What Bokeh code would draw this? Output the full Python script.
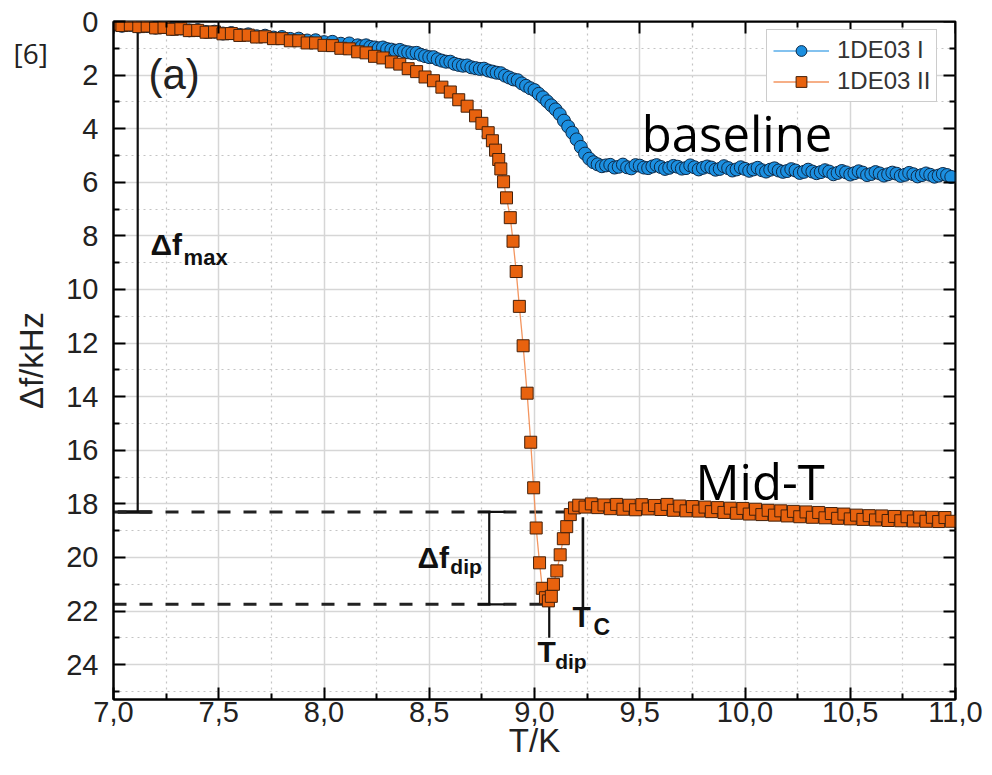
from bokeh.plotting import figure
from bokeh.models import (Range1d, LinearAxis, FixedTicker, Label, Legend, LegendItem,
                          ColumnDataSource)
from bokeh.embed import file_html
from bokeh.resources import INLINE

# ---------------- data ----------------
BLUE_T = [7.00, 7.04, 7.08, 7.12, 7.16, 7.20, 7.24, 7.28, 7.32, 7.36,
          7.40, 7.44, 7.48, 7.52, 7.56, 7.60, 7.64, 7.68, 7.72, 7.76,
          7.80, 7.84, 7.88, 7.92, 7.96, 8.00, 8.04, 8.08, 8.12,
          8.16, 8.18, 8.20, 8.22, 8.24, 8.26, 8.28, 8.30, 8.32, 8.34,
          8.36, 8.38, 8.40, 8.42, 8.44, 8.46, 8.48, 8.50, 8.52, 8.54,
          8.56, 8.58, 8.60, 8.62, 8.64, 8.66, 8.68, 8.70, 8.72, 8.74,
          8.76, 8.78, 8.80, 8.82, 8.84, 8.86, 8.88, 8.90, 8.92, 8.94,
          8.96, 8.98, 9.00,
          9.02, 9.04, 9.06, 9.08, 9.10, 9.12, 9.14, 9.16, 9.18, 9.20,
          9.22, 9.24, 9.26, 9.28, 9.30,
          9.32, 9.34, 9.36, 9.38, 9.40, 9.42, 9.44, 9.46, 9.48, 9.50,
          9.52, 9.54, 9.56, 9.58, 9.60, 9.62, 9.64, 9.66, 9.68, 9.70,
          9.72, 9.74, 9.76, 9.78, 9.80, 9.82, 9.84, 9.86, 9.88, 9.90,
          9.92, 9.94, 9.96, 9.98, 10.00, 10.02, 10.04, 10.06, 10.08, 10.10,
          10.12, 10.14, 10.16, 10.18, 10.20, 10.22, 10.24, 10.26, 10.28, 10.30,
          10.32, 10.34, 10.36, 10.38, 10.40, 10.42, 10.44, 10.46, 10.48, 10.50,
          10.52, 10.54, 10.56, 10.58, 10.60, 10.62, 10.64, 10.66, 10.68, 10.70,
          10.72, 10.74, 10.76, 10.78, 10.80, 10.82, 10.84, 10.86, 10.88, 10.90,
          10.92, 10.94, 10.96, 10.98]
BLUE_DF = [0.12, 0.16, 0.13, 0.19, 0.17, 0.23, 0.21, 0.28, 0.26, 0.33,
           0.32, 0.39, 0.38, 0.45, 0.43, 0.50, 0.48, 0.55, 0.53, 0.60,
           0.58, 0.65, 0.64, 0.71, 0.70, 0.77, 0.76, 0.83, 0.82,
           0.89, 0.93, 0.89, 0.95, 0.97, 1.00, 0.97, 1.03, 1.05, 1.09,
           1.06, 1.12, 1.15, 1.18, 1.17, 1.24, 1.29, 1.33, 1.33, 1.41,
           1.46, 1.50, 1.50, 1.58, 1.62, 1.65, 1.64, 1.71, 1.74, 1.77,
           1.76, 1.83, 1.87, 1.91, 1.93, 2.02, 2.09, 2.16, 2.19, 2.31,
           2.40, 2.49, 2.56,
           2.70, 2.83, 2.98, 3.13, 3.28, 3.46, 3.70, 3.92, 4.15, 4.40,
           4.68, 4.93, 5.12, 5.25, 5.33,
           5.40, 5.37, 5.35, 5.45, 5.42, 5.34, 5.44, 5.48, 5.36, 5.38,
           5.45, 5.47, 5.41, 5.36, 5.43, 5.50, 5.46, 5.39, 5.42, 5.49,
           5.47, 5.37, 5.44, 5.52, 5.46, 5.41, 5.45, 5.53, 5.50, 5.40,
           5.47, 5.56, 5.52, 5.44, 5.50, 5.57, 5.52, 5.46, 5.55, 5.60,
           5.53, 5.48, 5.56, 5.61, 5.58, 5.51, 5.56, 5.65, 5.61, 5.53,
           5.60, 5.66, 5.62, 5.55, 5.60, 5.70, 5.65, 5.58, 5.63, 5.71,
           5.66, 5.59, 5.64, 5.73, 5.69, 5.62, 5.67, 5.75, 5.70, 5.64,
           5.68, 5.76, 5.72, 5.65, 5.70, 5.78, 5.73, 5.67, 5.72, 5.79,
           5.75, 5.69, 5.73, 5.80]

ORANGE_T = [7.00, 7.04, 7.08, 7.12, 7.16, 7.20, 7.24, 7.28, 7.32, 7.36,
            7.40, 7.44, 7.48, 7.52, 7.56, 7.60, 7.64, 7.68, 7.72, 7.76,
            7.80, 7.84, 7.88, 7.92, 7.96, 8.00, 8.04, 8.08, 8.12, 8.16,
            8.20, 8.24, 8.28, 8.32, 8.36, 8.40, 8.44, 8.48, 8.52, 8.56,
            8.60, 8.64, 8.68, 8.72,
            8.75, 8.78, 8.80, 8.815, 8.83, 8.84,
            8.853, 8.867, 8.885, 8.898, 8.913, 8.928, 8.946, 8.965, 8.982, 8.996,
            9.008, 9.024, 9.037, 9.052, 9.066, 9.080, 9.090, 9.106, 9.122, 9.137,
            9.153, 9.170, 9.190, 9.21, 9.24, 9.27, 9.30,
            9.33, 9.36, 9.39, 9.42, 9.45, 9.48, 9.51, 9.54, 9.57, 9.60,
            9.63, 9.66, 9.69, 9.72, 9.75, 9.78, 9.81, 9.84, 9.87, 9.90,
            9.93, 9.96, 9.99, 10.02, 10.05, 10.08, 10.11, 10.14, 10.17, 10.20,
            10.23, 10.26, 10.29, 10.32, 10.35, 10.38, 10.41, 10.44, 10.47, 10.50,
            10.53, 10.56, 10.59, 10.62, 10.65, 10.68, 10.71, 10.74, 10.77, 10.80,
            10.83, 10.86, 10.89, 10.92, 10.95, 10.98]
ORANGE_DF = [0.10, 0.15, 0.13, 0.19, 0.17, 0.24, 0.22, 0.29, 0.27, 0.34,
             0.33, 0.40, 0.39, 0.46, 0.45, 0.52, 0.51, 0.58, 0.57, 0.64,
             0.64, 0.72, 0.72, 0.80, 0.80, 0.89, 0.90, 1.00, 1.02, 1.13,
             1.17, 1.30, 1.36, 1.51, 1.59, 1.76, 1.87, 2.07, 2.21, 2.45,
             2.63, 2.92, 3.16, 3.52,
             3.80, 4.15, 4.45, 4.80, 5.15, 5.50,
             5.98, 6.58, 7.32, 8.20, 9.33, 10.63, 12.10, 13.87, 15.70, 17.40,
             18.90, 20.20, 21.15, 21.50, 21.62, 21.45, 21.00, 20.50, 19.90, 19.30,
             18.85, 18.40, 18.15, 18.05, 18.12, 18.00, 18.14,
             18.04, 18.18, 18.02, 18.20, 18.05, 18.22, 18.03, 18.19, 18.06, 18.21,
             18.02, 18.24, 18.08, 18.26, 18.10, 18.27, 18.12, 18.29, 18.14, 18.32,
             18.16, 18.35, 18.17, 18.38, 18.20, 18.40, 18.24, 18.42, 18.26, 18.45,
             18.28, 18.48, 18.30, 18.50, 18.32, 18.52, 18.36, 18.54, 18.38, 18.56,
             18.42, 18.58, 18.44, 18.60, 18.45, 18.62, 18.47, 18.63, 18.48, 18.64,
             18.49, 18.65, 18.50, 18.66, 18.51, 18.65]

SERIES_NAMES = ["1DE03 I", "1DE03 II"]

X_TICKS = [7.0, 7.5, 8.0, 8.5, 9.0, 9.5, 10.0, 10.5, 11.0]
X_TICK_LABELS = ["7,0", "7,5", "8,0", "8,5", "9,0", "9,5", "10,0", "10,5", "11,0"]
X_MINOR = [7.25, 7.75, 8.25, 8.75, 9.25, 9.75, 10.25, 10.75]
Y_TICKS = [0, 2, 4, 6, 8, 10, 12, 14, 16, 18, 20, 22, 24]
Y_MINOR = [1, 3, 5, 7, 9, 11, 13, 15, 17, 19, 21, 23, 25]

X_MIN, X_MAX = 7.0, 11.0
Y_TOP, Y_BOTTOM = 0.0, 25.3

# annotation levels
DF_MAX_LEVEL = 18.3      # upper dashed level (Mid-T plateau)
DF_DIP_LEVEL = 21.75     # lower dashed level (dip)
T_DIP = 9.07
T_C = 9.23
T_FMAX = 7.115
T_DIPBAR = 8.785

FONT = "Liberation Sans"

# ---------------- figure ----------------
p = figure(width=990, height=772, output_backend="svg", toolbar_location=None,
           x_range=Range1d(X_MIN, X_MAX), y_range=Range1d(Y_BOTTOM, Y_TOP),
           min_border_left=113, min_border_right=35, min_border_top=21,
           min_border_bottom=73, background_fill_color="white",
           border_fill_color="white")
p.outline_line_color = "black"
p.outline_line_width = 2

xt = FixedTicker(ticks=X_TICKS, minor_ticks=X_MINOR)
yt = FixedTicker(ticks=Y_TICKS, minor_ticks=Y_MINOR)

def style_axis(ax, show_labels):
    ax.axis_line_width = 2
    ax.axis_line_color = "black"
    ax.major_tick_in = 12
    ax.major_tick_out = 0
    ax.minor_tick_in = 6
    ax.minor_tick_out = 0
    ax.major_tick_line_width = 2
    ax.minor_tick_line_width = 2
    ax.major_tick_line_color = "black"
    ax.minor_tick_line_color = "black"
    if show_labels:
        ax.major_label_text_font = FONT
        ax.major_label_text_font_size = "29px"
        ax.major_label_text_color = "#222222"
        ax.axis_label_text_font = FONT
        ax.axis_label_text_font_size = "33px"
        ax.axis_label_text_font_style = "normal"
        ax.axis_label_text_color = "#222222"
    else:
        ax.major_label_text_font_size = "1px"
        ax.major_label_text_color = None
        ax.major_label_standoff = 0

p.xaxis.ticker = xt
p.yaxis.ticker = yt
p.xaxis.major_label_overrides = {t: l for t, l in zip(X_TICKS, X_TICK_LABELS)}
p.xaxis.axis_label = "T/K"
p.yaxis.axis_label = "Δf/kHz"
style_axis(p.xaxis[0], True)
style_axis(p.yaxis[0], True)
p.xaxis.major_label_standoff = 2
p.xaxis.axis_label_standoff = -3
p.yaxis.major_label_standoff = 15
p.yaxis.axis_label_standoff = 13

# mirror axes (ticks only) pinned to the top and right frame edges
ax_top = LinearAxis(ticker=xt, fixed_location=Y_TOP)
style_axis(ax_top, False)
p.add_layout(ax_top, "above")
ax_right = LinearAxis(ticker=yt, fixed_location=X_MAX)
style_axis(ax_right, False)
p.add_layout(ax_right, "right")

for g in (p.xgrid[0], p.ygrid[0]):
    g.grid_line_color = "#d6d6d6"
    g.grid_line_width = 1.5
    g.minor_grid_line_color = "#c4c4c4"
    g.minor_grid_line_width = 1.2
    g.minor_grid_line_dash = "2 4"

# ---------------- annotations (lines) ----------------
ann = dict(line_color="#111111", line_width=2.2)
p.segment(x0=[T_FMAX], y0=[0.3], x1=[T_FMAX], y1=[DF_MAX_LEVEL], **ann)
p.segment(x0=[7.02], y0=[DF_MAX_LEVEL], x1=[7.18], y1=[DF_MAX_LEVEL],
          line_color="#111111", line_width=3.5)
p.segment(x0=[7.0, 7.0], y0=[DF_MAX_LEVEL, DF_DIP_LEVEL],
          x1=[9.18, 9.04], y1=[DF_MAX_LEVEL, DF_DIP_LEVEL],
          line_color="#222222", line_width=3, line_dash="13 13")
p.segment(x0=[T_DIPBAR], y0=[DF_MAX_LEVEL], x1=[T_DIPBAR], y1=[DF_DIP_LEVEL], **ann)
p.segment(x0=[8.735, 8.730], y0=[DF_MAX_LEVEL, DF_DIP_LEVEL],
          x1=[8.862, 8.857], y1=[DF_MAX_LEVEL, DF_DIP_LEVEL], **ann)
p.segment(x0=[T_DIP], y0=[DF_DIP_LEVEL], x1=[T_DIP], y1=[23.0], **ann)
p.segment(x0=[T_C], y0=[18.5], x1=[T_C], y1=[21.85], line_color="#111111", line_width=2.6)

# ---------------- series ----------------
src_b = ColumnDataSource(dict(t=BLUE_T, df=BLUE_DF))
src_o = ColumnDataSource(dict(t=ORANGE_T, df=ORANGE_DF))

lb = p.line("t", "df", source=src_b, line_color="#5aaeea", line_width=1.3)
sb = p.scatter("t", "df", source=src_b, marker="circle", size=13,
               fill_color="#1b8fe0", line_color="#0e2a48", line_width=1.0)
lo = p.line("t", "df", source=src_o, line_color="#f3955f", line_width=1.3)
so = p.scatter("t", "df", source=src_o, marker="square", size=12,
               fill_color="#e8620e", line_color="#44200a", line_width=1.0)

legend = Legend(items=[LegendItem(label=SERIES_NAMES[0], renderers=[lb, sb]),
                       LegendItem(label=SERIES_NAMES[1], renderers=[lo, so])],
                location=(653, 597))
legend.label_text_font = FONT
legend.label_text_font_size = "24px"
legend.label_text_color = "#333333"
legend.glyph_width = 56
legend.glyph_height = 27
legend.spacing = 3
legend.padding = 6
legend.margin = 0
legend.label_standoff = 8
legend.border_line_color = "#9a9a9a"
legend.border_line_width = 1.5
legend.background_fill_color = "white"
legend.background_fill_alpha = 1.0
p.add_layout(legend)

# ---------------- text labels (y = vertical middle of the text) ----------------
def lab(x, y, text, size, bold=False, font=FONT, color="#111111", place=None):
    l = Label(x=x, y=y, text=text, text_font=font, text_font_size=f"{size}px",
              text_font_style="bold" if bold else "normal",
              text_color=color, text_baseline="middle")
    if place is None:
        p.add_layout(l)
    else:
        p.add_layout(l, place)

lab(7.166, 1.96, "(a)", 42, color="#222222")
lab(9.51, 4.15, "baseline", 49, font="Open Sans", color="black")
lab(9.765, 17.13, "Mid-T", 49, font="Open Sans", color="black")
# reference tag sits left of the plot frame: give it a side panel so it is not clipped
lab(6.525, 1.16, "[6]", 28, font="Open Sans", color="#222222", place="right")

lab(7.176, 8.32, "Δf", 30, bold=True)
lab(7.333, 8.79, "max", 22, bold=True)
lab(8.444, 20.0, "Δf", 30, bold=True)
lab(8.600, 20.34, "dip", 21, bold=True)
lab(9.014, 23.5, "T", 30, bold=True)
lab(9.098, 23.88, "dip", 21, bold=True)
lab(9.18, 22.22, "T", 30, bold=True)
lab(9.28, 22.61, "C", 23, bold=True)

open("out.html", "w").write(file_html(p, INLINE))
